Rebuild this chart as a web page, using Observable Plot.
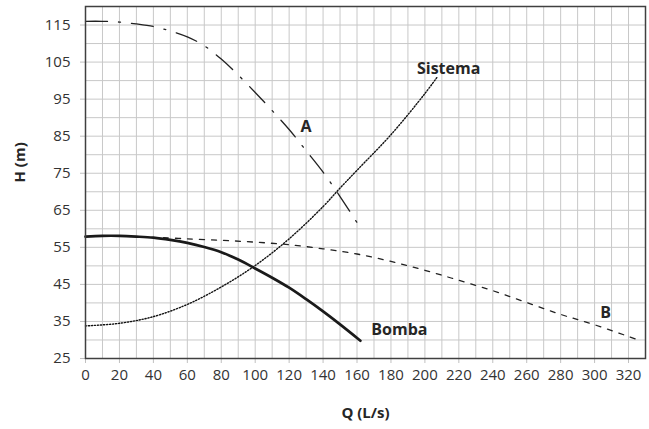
<!DOCTYPE html>
<html>
<head>
<meta charset="utf-8">
<script src="https://cdn.jsdelivr.net/npm/d3@7"></script>
<script src="https://cdn.jsdelivr.net/npm/@observablehq/plot@0.6"></script>
<style>
  html, body { margin: 0; padding: 0; background: #ffffff; }
  #chart { width: 649px; height: 429px; }
</style>
</head>
<body>
<div id="chart"></div>
<script>
// Bomba (single pump curve)
const bombaQ = [0, 10, 20, 30, 40, 50, 60, 70, 80, 90, 100, 110, 120, 130, 140, 150, 162];
const bombaH = [57.9, 58.1, 58.1, 57.9, 57.6, 57.0, 56.2, 55.1, 53.7, 51.7, 49.3, 46.8, 44.1, 41.0, 37.7, 34.2, 29.8];

// Sistema (system curve)
const sistemaQ = [0, 20, 40, 60, 80, 100, 120, 140, 150, 160, 180, 200, 207];
const sistemaH = [33.8, 34.5, 36.3, 39.6, 44.3, 50.1, 57.3, 66.0, 71.0, 75.8, 85.4, 96.5, 100.8];

// Curve A (dash-dot)
const aQ = [0, 10, 20, 30, 40, 50, 60, 70, 80, 90, 100, 110, 120, 130, 140, 150, 160, 163];
const aH = [116, 116, 115.8, 115.3, 114.6, 113.4, 111.8, 109.4, 105.8, 101.5, 96.8, 91.9, 86.8, 81.1, 75.3, 68.7, 61.7, 59.6];

// Curve B (dashed)
const bQ = [46, 60, 80, 100, 120, 140, 160, 180, 200, 220, 240, 260, 280, 300, 324];
const bH = [57.6, 57.3, 56.9, 56.4, 55.7, 54.6, 53.2, 51.2, 48.8, 46.1, 43.3, 40.1, 36.9, 34.1, 30.3];

// Curve labels
const labelText = ["A", "Sistema", "Bomba", "B"];
const labelQ = [130, 214, 185, 306.5];
const labelH = [87.6, 103.3, 32.8, 37.4];

// Ticks
const xTicks = d3.range(0, 321, 20);
const yTicks = d3.range(25, 116, 10);
const xGrid = d3.range(0, 331, 10);
const yGrid = d3.range(25, 121, 5);

const toRows = (Q, H) => Q.map((q, i) => ({Q: q, H: H[i]}));
const bomba = toRows(bombaQ, bombaH);
const sistema = toRows(sistemaQ, sistemaH);
const curveA = toRows(aQ, aH);
const curveB = toRows(bQ, bH);
const labels = labelText.map((t, i) => ({t, Q: labelQ[i], H: labelH[i]}));

const chart = Plot.plot({
  width: 649,
  height: 429,
  marginLeft: 85,
  marginTop: 6,
  marginRight: 4,
  marginBottom: 71,
  x: {domain: [0, 330]},
  y: {domain: [25, 120]},
  style: {fontFamily: "'Open Sans', sans-serif", fontSize: "15px", color: "#333333", background: "#ffffff", overflow: "visible"},
  marks: [
    Plot.gridX(xGrid, {stroke: "#c8c8c8", strokeOpacity: 1, strokeWidth: 1}),
    Plot.gridY(yGrid, {stroke: "#c8c8c8", strokeOpacity: 1, strokeWidth: 1}),
    Plot.axisX(xTicks, {label: null, tickSize: 5, tickPadding: 6, stroke: "#c0c0c0", fill: "#333333", fontSize: 15}),
    Plot.axisY(yTicks, {label: null, tickSize: 5, tickPadding: 10, stroke: "#c0c0c0", fill: "#333333", fontSize: 15}),
    Plot.line(sistema, {x: "Q", y: "H", stroke: "#111111", strokeWidth: 1.4, strokeDasharray: "1.2,1.8", curve: "catmull-rom"}),
    Plot.line(curveB, {x: "Q", y: "H", stroke: "#222222", strokeWidth: 1.3, strokeDasharray: "5,7", curve: "catmull-rom"}),
    Plot.line(curveA, {x: "Q", y: "H", stroke: "#222222", strokeWidth: 1.3, strokeDasharray: "22,11,2,11", curve: "catmull-rom"}),
    Plot.line(bomba, {x: "Q", y: "H", stroke: "#1a1a1a", strokeWidth: 2.7, curve: "catmull-rom"}),
    Plot.frame({stroke: "#404040", strokeWidth: 1.5}),
    Plot.text(labels, {x: "Q", y: "H", text: "t", fontWeight: "bold", fontSize: 16, fill: "#262626"}),
    Plot.text(["H (m)"], {frameAnchor: "left", dx: -65, rotate: -90, fontWeight: "bold", fontSize: 15, fill: "#262626"}),
    Plot.text(["Q (L/s)"], {frameAnchor: "bottom", dy: 59, fontWeight: "bold", fontSize: 15, fill: "#262626"})
  ]
});

document.getElementById("chart").appendChild(chart);
</script>
</body>
</html>
